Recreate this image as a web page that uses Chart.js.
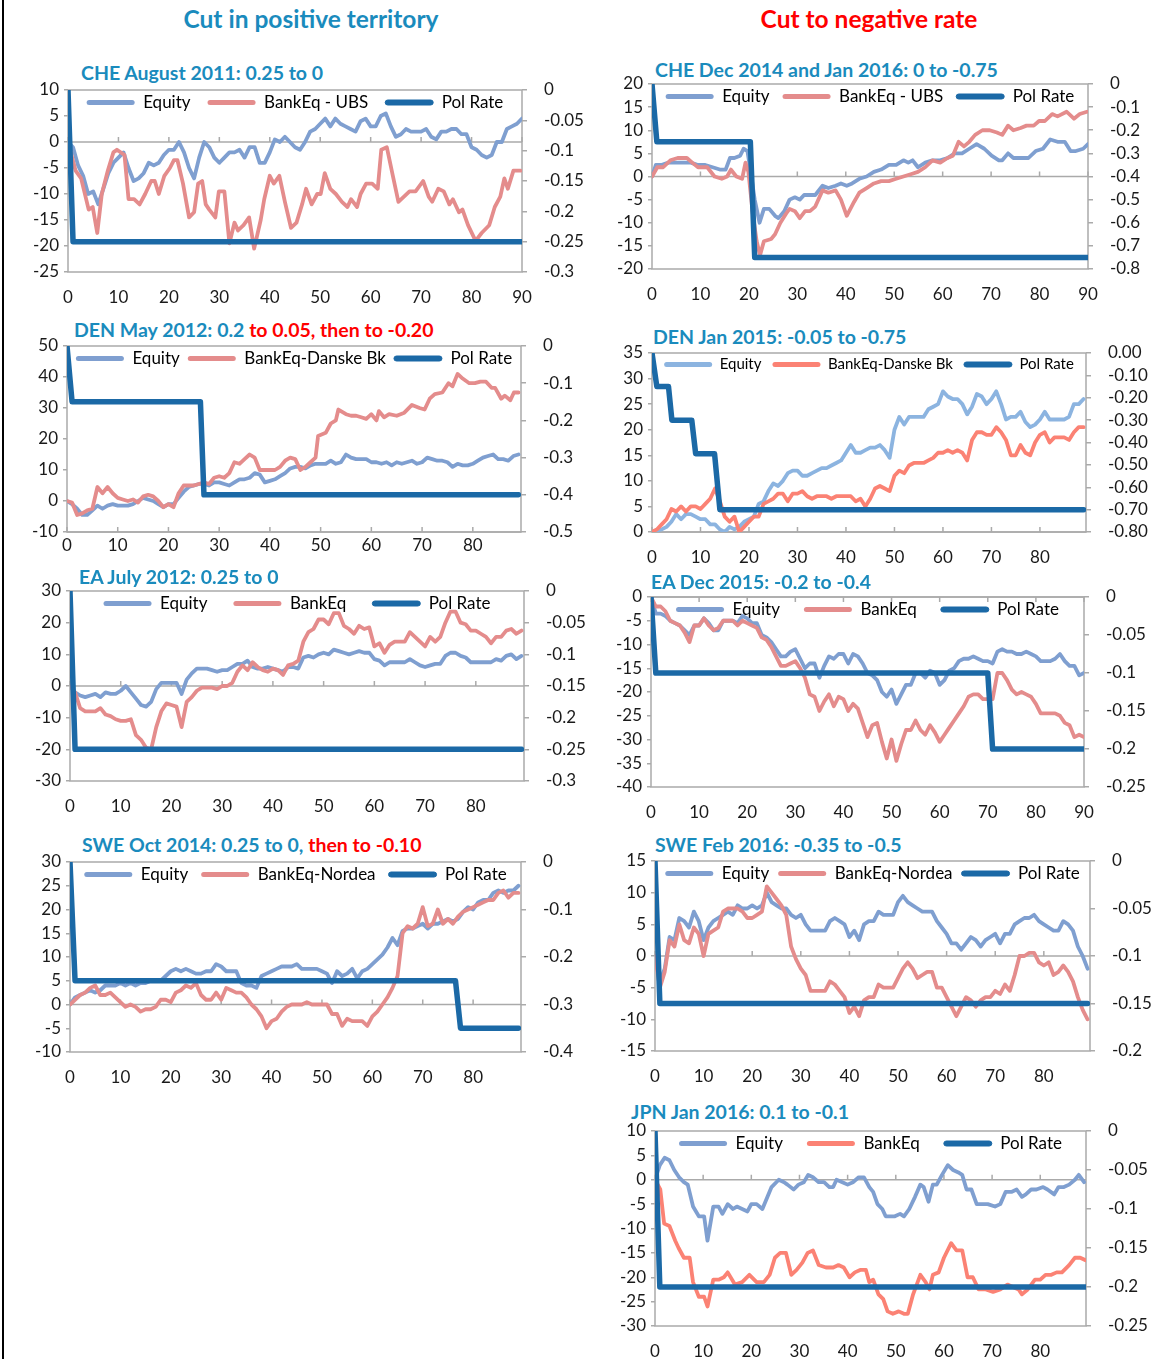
<!DOCTYPE html>
<html>
<head>
<meta charset="utf-8">
<script src="https://cdn.jsdelivr.net/npm/chart.js@4.4.1/dist/chart.umd.min.js"></script>
<style>
  html, body { margin: 0; padding: 0; background: #fff; }
  body { width: 1152px; height: 1359px; position: relative; overflow: hidden; font-family: Lato, sans-serif; }
  .edge { position: absolute; left: 2px; top: 0; width: 2px; height: 1359px; background: #000; }
  .head { position: absolute; top: 4px; line-height: 30px; font-weight: bold; font-size: 24.5px; transform: translateX(-50%); white-space: nowrap; }
  .title { position: absolute; line-height: 22px; font-weight: bold; font-size: 19.5px; color: #1a8bbd; white-space: nowrap; }
  .title .neg { color: #ff0000; }
  .panel { position: absolute; }
</style>
</head>
<body>
<div class="edge"></div>
<div class="head" style="left:311px;color:#1a8bbd">Cut in positive territory</div>
<div class="head" style="left:869px;color:#ff0000">Cut to negative rate</div>
<script>
// plain arrays are values for day 0,1,2...; [x, y] pairs give the day explicitly

// CHE August 2011
const cheAug11Eq = [
  0, -1, -4.5, -6.5, -10, -9.5, -12, -9, -6, -4,
  -3, -2, -5, -7.5, -7, -6, -4, -4.5, -4, -2.5,
  -1.5, -1.5, 0, -2, -5, -7, -3, 0, -1, -3,
  -4, -3, -2, -2, -1.5, -3, -1, -1, -4, -4,
  -2, 0.5, 0, 1, 0, -1, -1.5, 0, 2, 2.5,
  3.5, 4.5, 3, 4.5, 3.5, 3, 2.5, 2, 4, 4.5,
  3, 3, 5, 5.5, 3, 1, 1.5, 2.5, 2, 2,
  2, 2.5, 1, 0.5, 2, 2, 2.5, 2.5, 1.5, 1.5,
  -1, -1.5, -2.5, -3, -2.5, 0, 0, 2.5, 3, 3.5, 4.5
];
const cheAug11Bank = [
  [0, 0], [1.5, -5.5], [2.6, -7], [4.1, -13], [4.9, -12.5], [5.8, -17.5], [6.7, -10], [7.9, -5.5],
  [9, -2], [9.7, -1.5], [11.2, -2.5], [12, -11], [13.1, -11], [14.2, -12], [15.3, -10], [16.5, -7.5],
  [17.2, -7.5], [18, -10], [19.1, -6.5], [20.2, -5], [21, -3.5], [21.7, -3.5], [22.8, -8], [24, -14.5],
  [25, -13.5], [25.8, -8], [26.6, -7.5], [27.3, -12], [28, -13], [29.2, -14.5], [29.9, -9.5], [31, -9.5],
  [32, -19.5], [33, -15.5], [33.7, -17], [34.8, -16], [35.9, -14.5], [36.9, -20.5], [38.2, -15], [38.9, -11],
  [40, -6.5], [40.8, -8], [41.9, -6.5], [43, -11.5], [44.2, -16.5], [45.3, -15.5], [46.4, -12], [47.2, -9],
  [48.3, -12], [49.4, -10], [50.1, -10], [50.9, -6], [52, -9], [53.1, -10], [54.3, -11.5], [55.4, -12.5],
  [56.1, -11], [57.3, -12.5], [58, -10], [59.1, -8], [60.3, -8], [61.4, -9], [62.1, -1.5], [63.2, -1],
  [64.4, -6.5], [65.5, -11.5], [66.6, -10.5], [67.7, -9.5], [68.9, -9.5], [70.4, -7.5], [71.5, -10.5], [72.2, -11.5],
  [73.4, -9], [74.5, -9.5], [75.6, -12], [76.3, -11], [77.5, -13.5], [78.2, -13], [79.3, -16], [80.8, -19],
  [82, -17.5], [83.5, -16], [84.6, -12.5], [85.7, -10.5], [86.5, -7], [87.2, -9], [88.3, -5.5], [89.7, -5.5]
];
const cheAug11Pol = [[0, 0], [1, -0.25], [90, -0.25]];

// DEN May 2012
const denMay12Eq = [
  0, -1, -2.5, -4.5, -4.5, -3, -1.5, -2.5, -1.5, -1,
  -1.5, -1.5, -1.5, -1, 0, 1, 0.5, 0, -1, -2,
  -1, -1, 1, 3, 4.5, 5, 5.5, 5.5, 5, 6,
  6, 5.5, 5, 6, 7, 7, 7.5, 9, 8.5, 6,
  6.5, 7, 8, 9, 10.5, 11, 11, 10.5, 11.5, 12,
  12, 12, 13, 12, 12.5, 15, 14, 13.5, 13.5, 13.5,
  12.5, 12.5, 12, 12.5, 11.5, 12.5, 12, 12.5, 13, 12,
  12.5, 14, 13.5, 13, 13, 12.5, 11, 12, 11.5, 11.5,
  12, 13, 14, 14.5, 15, 13.5, 13.5, 13, 14.5, 15
];
const denMay12Bank = [
  [0, 0], [1, -0.5], [2, -4.5], [3, -4], [4, -3], [5, -2.5], [6, 4.5], [7, 2.5], [8, 4.5], [9, 2.5],
  [10, 1], [11, 0.5], [12, 0], [13, 0.5], [14, -0.5], [15, 1.5], [16, 2], [17, 1.5], [18, 0], [19, -2],
  [20, -1], [21, -2], [22, 2.5], [23, 5], [24, 5], [25, 5], [26, 5.5], [27, 6], [28, 5.5], [29, 7.5],
  [30, 8], [31, 7.5], [32, 9], [33, 12.5], [34, 12], [35, 13.5], [36, 15], [37, 14], [38, 10], [39, 10],
  [40, 10], [41, 10], [42, 11], [43, 13], [44, 14], [45, 13.5], [46, 10], [47, 11], [48, 12.5], [49, 14],
  [49.5, 21], [51, 22], [52, 25], [53, 26], [53.5, 29.5], [55, 28], [56, 27.5], [57, 27.5], [58, 27],
  [59, 26.5], [60, 28], [61, 26], [61.5, 29], [62.5, 27], [63.5, 28], [65, 27.5], [66.5, 28.5], [68, 31],
  [69.5, 30], [70.5, 29.5], [71.5, 33], [72.5, 34.5], [74, 35], [75.2, 38], [76, 37], [77, 41], [78, 39.5],
  [79.3, 38], [80.4, 38], [81.5, 38.5], [82.6, 38.5], [83.7, 36.5], [84.4, 36.5], [85.6, 33], [86.3, 34],
  [87.4, 32.5], [88.1, 35], [89, 35]
];
const denMay12Pol = [[0, 0], [1, -0.15], [26.3, -0.15], [27, -0.4], [89, -0.4]];

// EA July 2012
const eaJul12Eq = [
  0, -2, -3, -3.5, -3, -2.5, -3.5, -2, -2.5, -2.5,
  -1.5, 0, -2, -4, -6, -6.5, -5, -1, 1, 1,
  1, 1, -2.5, 2, 4, 5.5, 5.5, 5.5, 5, 4.5,
  5, 5, 6, 7, 7, 8, 6, 5.5, 5.5, 6,
  5.5, 5, 4.5, 6, 6, 5.5, 9, 9.5, 9, 10,
  10.5, 10, 11.5, 11, 10.5, 10, 10.5, 11, 10.5, 10.5,
  8.5, 8, 6.5, 7.5, 7.5, 7.5, 7.5, 8.5, 7.5, 6.5,
  6, 6.5, 7, 7, 9.5, 10.5, 10.5, 9.5, 9, 7.5,
  7.5, 7.5, 7.5, 7.5, 8.5, 8, 9.5, 10, 8.5, 9.5
];
const eaJul12Bank = [
  0, -2, -7, -8, -8, -8, -7, -9, -9.5, -10.5,
  -11, -11, -10.5, -15.5, -17, -19.5, -20, -13, -8, -5.5,
  -6, -6.5, -13, -5, -3.5, -1.5, -0.5, -0.5, -0.5, -1,
  0, 0, 1, 4.5, 6.5, 5, 7.5, 6, 5, 4.5,
  5.5, 5, 3.5, 6.5, 7, 8, 14, 17, 18, 21,
  21, 19.5, 23, 23, 19, 18, 16.5, 19, 18, 18.5,
  12.5, 13.5, 10.5, 13, 14, 14, 14, 17, 15.5, 14,
  12.5, 15.5, 14, 15.5, 20, 23.5, 23.5, 20, 19.5, 17.5,
  17.5, 16.5, 15.5, 13.5, 15.5, 15.5, 17.5, 18, 16.5, 17.5
];
const eaJul12Pol = [[0, 0], [1, -0.25], [89, -0.25]];

// SWE Oct 2014
const sweOct14Eq = [
  0, 1.5, 2, 2.5, 3, 2.5, 3, 4, 4, 4,
  4.5, 4, 4.5, 4, 4.5, 4.5, 5, 5, 5, 6,
  7, 7.5, 7, 7.5, 7, 6.5, 6.5, 7, 7, 8.5,
  8, 7, 7, 7, 4.5, 4, 4, 3.5, 6, 6.5,
  7, 7.5, 8, 8, 8, 8.5, 7.5, 7.5, 7.5, 7.5,
  7, 6.5, 4.5, 7, 6, 6.5, 7.5, 5.5, 7, 7.5,
  8.5, 9.5, 10.5, 12, 14, 12.5, 15.5, 16, 16, 16.5,
  17, 16, 17, 17, 17.5, 18, 17.5, 18, 19.5, 20.5,
  20, 21.5, 22, 22, 23.5, 24, 23.5, 24, 24, 25
];
const sweOct14Bank = [
  0, 1, 2, 2.5, 3.5, 4, 2, 2, 2.5, 1.5,
  0.5, -0.5, 0, -0.5, -1.5, -1, -1, -0.5, 1, 1,
  0.5, 2.5, 3, 4, 3.5, 4.5, 2, 1, 1, 2.5,
  1, 3.5, 3, 2.5, 2.5, 1.5, 0, -1, -2.5, -5,
  -3.5, -3, -1.5, -0.5, 0, 0, 0, 0.5, 0, 0,
  0, 0, -2, -2, -4.5, -3, -3.5, -3.5, -3.5, -4.5,
  -2.5, -1.5, 0, 1.5, 3.5, 6, 15, 16.5, 16, 17,
  20.5, 16.5, 17, 20, 17, 18, 17, 18.5, 19.5, 20,
  20.5, 21, 21.5, 22, 22, 23.5, 24, 22.5, 23.5, 23.5
];
const sweOct14Pol = [[0, 0], [1, -0.25], [76.5, -0.25], [77.5, -0.35], [89, -0.35]];

// CHE Dec 2014 and Jan 2016
const cheDec14Eq = [
  [0, 0], [0.8, 2.5], [1.9, 2.5], [3.4, 3], [4.9, 3], [6.4, 3], [8, 3], [9.5, 2.5], [11, 2.5], [12.5, 2],
  [14, 1.5], [15.2, 1.5], [16.1, 4], [17, 4], [18.2, 4.5], [18.9, 6], [19.7, 5.5], [20.5, 0], [21.2, -5],
  [22.2, -10], [23.1, -7], [24.2, -7], [25.4, -8.5], [26.1, -9], [27.3, -7.5], [28.4, -5], [29.5, -4.5],
  [30.5, -5], [31.4, -4], [32.6, -4], [33.7, -4], [35.2, -2], [36.4, -2.5], [37.9, -2], [39, -1.5],
  [40.2, -2], [41.3, -1.5], [42.8, -0.5], [44.3, 0], [45.8, 1], [47.3, 1.5], [48.9, 2.5], [50.4, 2.5],
  [51.9, 3.5], [52.9, 3], [53.8, 3.5], [54.9, 2], [56.4, 3], [57.9, 3.5], [59.5, 3.5], [61, 4], [62.5, 5],
  [64, 5], [65.5, 6], [67, 7], [68.6, 6], [70.1, 4.5], [71.6, 3.5], [72.3, 3.5], [73.5, 5], [74.6, 4],
  [76.1, 4], [77.7, 4], [79.2, 5.5], [80.7, 6], [82.2, 8], [83.7, 7.5], [85.2, 7.5], [86.4, 5.5],
  [87.5, 5.5], [89, 6], [90, 7]
];
const cheDec14Bank = [
  [0, 0], [1.1, 2], [2.3, 2], [3.8, 3.5], [5.3, 4], [7.2, 4], [8.3, 3], [9.5, 2], [11.4, 2], [12.9, 0],
  [14.4, -0.5], [15.5, 0], [16.3, 1.5], [17.4, 0], [18.6, -0.5], [19.3, 3], [19.9, 1], [20.8, -8],
  [21.6, -14], [22.3, -17], [23.1, -14], [24.6, -13.5], [25.4, -12.5], [26.5, -10], [27.7, -8], [28.4, -7],
  [29.5, -7.5], [30.5, -9], [31.6, -7.5], [32.6, -7.5], [33.7, -6.5], [35.2, -3], [36.4, -3.5], [37.9, -3],
  [39, -5], [40.2, -8.5], [41.7, -5.5], [42.8, -3.5], [44.3, -2.5], [45.8, -1.5], [47.3, -1], [48.9, -1],
  [50.4, -0.5], [51.9, 0], [53.4, 0.5], [54.9, 1], [56.4, 2], [57.9, 3.5], [59.5, 3], [61, 4], [62.1, 4.5],
  [63.3, 7.5], [64.4, 6.5], [65.5, 7.5], [66.7, 9], [68.2, 10], [69.7, 10], [71.2, 9.5], [72.3, 9],
  [73.5, 11], [74.6, 10], [76.1, 10.5], [77.3, 11], [78.8, 11], [79.9, 12], [81.1, 12], [82.6, 13.5],
  [83.7, 13], [85.6, 14], [87.1, 12.5], [88.3, 13.5], [89.8, 14]
];
const cheDec14Pol = [[0, 0], [1, -0.25], [20.3, -0.25], [21.2, -0.75], [90, -0.75]];

// DEN Jan 2015
const denJan15Eq = [
  0, 0.3, 0.5, 1, 2, 3.5, 2.5, 3.5, 3.5, 3,
  2.5, 2.5, 1.5, 1.5, 0.5, 0, 1, 0.5, 1, 2,
  2.5, 3, 5.5, 6, 8, 9.5, 9, 10, 11.5, 12,
  12, 11, 11, 11.5, 12, 12.5, 12.5, 13, 13.5, 14,
  15.5, 17, 15.5, 15.5, 16, 16.5, 16.5, 17, 16, 14.5,
  20, 22.5, 21, 22.5, 22.5, 22.5, 22.5, 24, 24.5, 25,
  27.5, 26.5, 26, 26, 25, 23, 24.5, 27, 26.5, 25,
  26, 27.5, 25, 22, 22.5, 22.5, 23.5, 21.5, 20.5, 21,
  22, 23.5, 22, 22, 22, 22, 22.5, 25, 25, 26
];
const denJan15Bank = [
  0, 0.5, 1.5, 2.5, 4.5, 4, 5, 4, 5, 5,
  4.5, 5.5, 6.5, 8.5, 6, 3, 2, 3, 0, 1,
  2, 3, 3, 5.5, 6, 6.5, 7.5, 7.5, 6, 7.5,
  7.5, 8, 7, 6.5, 7, 7, 7, 6.5, 7, 7,
  7, 7, 6, 6.5, 5, 6.5, 8.5, 9, 8.5, 8,
  11, 12, 11.5, 13, 13.5, 13.5, 13.5, 14, 14.5, 15.5,
  15.5, 16, 15.5, 16, 15.5, 14, 18, 19.5, 19.5, 19,
  19, 20.5, 19.5, 18, 15, 15, 17, 15.5, 15, 17.5,
  19, 19.5, 17.5, 18.5, 18.5, 18.5, 18, 19.5, 20.5, 20.5
];
const denJan15Pol = [
  [0, 0], [1, -0.15], [3.4, -0.15], [4.1, -0.3], [8.2, -0.3], [9, -0.45], [12.9, -0.45], [14, -0.7], [89, -0.7]
];

// EA Dec 2015
const eaDec15Eq = [
  0, -3.5, -3.5, -4, -5, -5.5, -6, -7, -8, -6,
  -6, -4.5, -5.5, -7, -7, -5, -5, -5, -5.5, -4,
  -4.5, -5.5, -5.5, -8, -8.5, -9.5, -11, -12.5, -12.5, -11.5,
  -11, -13, -15, -14, -14, -17, -14.5, -12.5, -13, -12,
  -12, -14, -12, -12.5, -14, -16, -16.5, -17.5, -20, -21,
  -19.5, -22.5, -20.5, -18.5, -18.5, -16, -16, -17, -15.5, -16,
  -18.5, -17.5, -15.5, -15, -13.5, -13, -13, -12.5, -13, -13.5,
  -13.5, -14, -11.5, -11, -11.5, -11.5, -12, -12, -11.5, -12,
  -12.5, -13.5, -13.5, -13.5, -13, -12, -13.5, -14.5, -14.5, -16.5, -16
];
const eaDec15Bank = [
  0, -2, -2, -3, -5, -5.5, -6, -7.5, -9.5, -6,
  -6, -4.5, -6, -7, -6.5, -5, -5, -5, -6, -5,
  -5.5, -6, -6.5, -8.5, -9, -10.5, -12.5, -14.5, -14.5, -14,
  -13.5, -15, -17, -20.5, -21, -24, -22, -20.5, -23, -21,
  -21.5, -24, -22.5, -23.5, -26.5, -29.5, -27, -26.5, -30.5, -34,
  -30, -34.5, -31, -28, -28, -26, -28, -29, -27, -28.5,
  -30.5, -29, -27.5, -26, -24.5, -23, -21, -20.5, -20.5, -21.5,
  -21.5, -21.5, -16, -16, -17.5, -19.5, -20.5, -20, -20.5, -21,
  -22.5, -24.5, -24.5, -24.5, -24.5, -25, -26.5, -27, -29.5, -29, -29.5
];
const eaDec15Pol = [[0, 0], [1, -0.1], [70, -0.1], [71, -0.2], [90, -0.2]];

// SWE Feb 2016
const sweFeb16Eq = [
  0, -4, -2, 3, 2.5, 6, 5.5, 4.5, 7, 5.5,
  2.5, 4.5, 5.5, 6, 6.5, 7, 6.5, 8, 7.5, 7.5,
  8, 7.5, 8, 10, 8.5, 8, 7.5, 7.5, 6.5, 6,
  6.5, 5, 4, 4, 4, 4, 5.5, 6, 5.5, 5,
  3, 4, 2.5, 5, 5.5, 5.5, 7, 6.5, 6.5, 6.5,
  8.5, 9.5, 8.5, 8, 7.5, 7, 7, 7, 5.5, 4.5,
  3.5, 2, 2, 1, 2, 3, 2.5, 1.5, 2.5, 3,
  3.5, 2, 3.5, 3.5, 5, 5.5, 6, 6, 6.5, 5.5,
  5, 4.5, 4, 4, 5.5, 5, 4, 1.5, 0, -2
];
const sweFeb16Bank = [
  0, -5, -2.5, 2.5, 1.5, 5, 2.5, 2, 4.5, 3.5,
  0, 3.5, 4, 4.5, 7, 7.5, 7.5, 7.5, 7, 6,
  6, 6.5, 7, 11, 10, 9, 8, 6.5, 1.5, -0.5,
  -2, -3, -5.5, -5.5, -5.5, -5.5, -4, -4.5, -5.5, -6.5,
  -9, -8, -9.5, -7, -6.5, -6.5, -4.5, -5, -5, -5,
  -3.5, -2, -1, -2, -3.5, -3, -2.5, -2.5, -5, -5,
  -6.5, -8, -9.5, -8, -6.5, -7, -8, -7, -6.5, -6.5,
  -5.5, -6, -4.5, -5.5, -3, 0, 0, 0.5, 0.5, -1,
  -1.5, -1, -3, -2.5, -1.5, -2.5, -4, -6.5, -8.5, -10
];
const sweFeb16Pol = [[0, 0], [1, -0.15], [89, -0.15]];

// JPN Jan 2016
const jpnJan16Eq = [
  [0, 0], [1, 3], [2, 4.5], [3, 4], [4, 2], [5, 0.5], [6, -0.5], [6.8, -1], [7.9, -5.5], [9.1, -7.5],
  [10.2, -7.5], [10.9, -12.5], [12.1, -5.5], [13.2, -5.5], [14, -7], [15.1, -5], [16.2, -6], [17, -5.5],
  [18.1, -6], [19.2, -6.5], [20, -5], [21.1, -5], [22.3, -6], [24.2, -1.5], [25.7, 0], [26.8, -0.5],
  [27.5, -1], [28.8, -2], [29.8, -1], [30.9, -0.5], [31.8, 1], [32.8, 0.5], [34, -0.5], [35.1, -0.5],
  [36.2, -1.5], [37, -1.5], [37.7, 0], [38.9, -0.5], [40, -1], [41.1, -0.5], [42.3, 0.5], [43.4, 0.5],
  [44.5, -1.5], [45.3, -2.5], [46.2, -5], [47.2, -6], [47.9, -7.5], [49.1, -7.5], [49.8, -7.5], [50.9, -7],
  [51.7, -7.5], [52.8, -6], [54, -3.5], [55.1, -1], [55.8, -1.5], [56.8, -4.5], [57.7, -1], [58.5, -1],
  [59.6, 1], [60.8, 3], [61.9, 2], [63, 1.5], [63.8, 1], [64.7, -2], [65.7, -2], [66.8, -5], [67.9, -5],
  [69.1, -5], [70.6, -5.5], [71.7, -5], [72.8, -2.5], [74, -2.5], [75.1, -2], [76.2, -3.5], [77, -3],
  [78.1, -2], [79.2, -2], [80.6, -1.5], [81.5, -2], [82.9, -3], [83.8, -1.5], [84.9, -1.5], [86, -1],
  [87.2, 0], [88, 1], [89.1, -0.5]
];
const jpnJan16Bank = [
  [0, 0], [1.1, -2], [1.9, -9], [3, -9.5], [4.2, -12.5], [4.9, -14], [6, -16], [7.2, -16], [7.9, -21],
  [9.1, -24], [10.2, -24], [10.9, -26], [12.1, -20.5], [13.2, -20.5], [14.3, -20], [15.1, -19], [16.6, -21.5],
  [18.1, -21], [19.6, -19.5], [21.1, -21], [22.6, -21], [23.8, -19.5], [24.9, -16], [26, -15], [27.2, -15],
  [28.3, -19.5], [29.4, -18.5], [30.6, -17], [31.7, -15], [32.8, -14.5], [34, -17.5], [35.5, -18], [37, -18],
  [38.1, -17.5], [39.2, -18], [40.4, -20], [41.5, -19], [42.6, -18.5], [43.8, -18.5], [44.5, -21], [45.3, -20.5],
  [46.4, -23.5], [47.4, -24.5], [48.3, -27], [49.4, -27.5], [50.6, -27], [51.7, -27.5], [52.5, -27.5],
  [53.6, -23.5], [55.1, -19.5], [56.2, -21], [57, -22.5], [57.7, -19.5], [58.9, -19], [60, -16], [61.5, -13],
  [62.6, -14.5], [63.8, -14.5], [64.9, -20], [66, -20], [67.2, -22.5], [68.7, -22.5], [70.2, -23], [71.7, -22.5],
  [73.2, -21.5], [74.3, -22], [75.5, -22.5], [76.2, -23.5], [77.4, -22.5], [78.9, -20.5], [80, -20.5],
  [81.1, -19.5], [82.3, -19.5], [83.4, -19], [84.5, -19], [86, -17.5], [87.2, -16], [88.3, -16], [89.4, -16.5]
];
const jpnJan16Pol = [[0, 0], [1, -0.2], [89.4, -0.2]];

const EQ = '#7f9fd0';
const BANK = '#e48c8c';
const BANK_SALMON = '#fb8274';
const POL = '#1b69a6';
const AXIS = '#aaaaaa';

Chart.defaults.font.family = 'Lato, sans-serif';
Chart.defaults.font.size = 17;
Chart.defaults.color = '#1a1a1a';

function points(arr) {
  return arr.map((v, i) => Array.isArray(v) ? { x: v[0], y: v[1] } : { x: i, y: v });
}

function fmt(v, dp) {
  if (Math.abs(v) < 1e-9) v = 0;
  return dp ? v.toFixed(dp) : String(+v.toFixed(2));
}

// plot border, category axis line at the crossing value and its tick marks;
// also pulls the legend row down inside the plot area like the original
const frame = {
  id: 'frame',
  afterLayout(chart, args, opts) {
    const lg = chart.legend;
    if (!lg) return;
    const h = lg.bottom - lg.top;
    lg.top = chart.chartArea.top - opts.legendPad + 4;
    lg.bottom = lg.top + h;
  },
  beforeDatasetsDraw(chart, args, opts) {
    const { ctx, chartArea: a, scales } = chart;
    ctx.save();
    ctx.strokeStyle = AXIS;
    ctx.lineWidth = 1.5;
    ctx.strokeRect(a.left, a.top, a.right - a.left, a.bottom - a.top);
    const y0 = scales.y.getPixelForValue(opts.cross);
    const dir = y0 <= a.top + 1 ? 1 : -1;
    ctx.beginPath();
    ctx.moveTo(a.left, y0);
    ctx.lineTo(a.right, y0);
    scales.x.ticks.forEach(t => {
      const px = scales.x.getPixelForValue(t.value);
      ctx.moveTo(px, y0);
      ctx.lineTo(px, y0 + dir * 5);
    });
    ctx.stroke();
    ctx.restore();
  }
};

const panels = [
  { title: ['CHE August 2011: 0.25 to 0'], tx: 81, ty: 73, box: [68, 522, 90, 272],
    y: [-25, 10, 5], y2: [-0.3, 0, 0.05], xMax: 90, cross: 0, xPad: 7, legendPad: 17,
    eq: cheAug11Eq, bank: cheAug11Bank, pol: cheAug11Pol, bankLabel: 'BankEq - UBS' },
  { title: ['DEN May 2012: 0.2 ', 'to 0.05, then to -0.20'], tx: 74, ty: 330, box: [67, 521, 346, 532],
    y: [-10, 50, 10], y2: [-0.5, 0, 0.1], xMax: 89.5, cross: -10, xPad: -5, legendPad: 8,
    eq: denMay12Eq, bank: denMay12Bank, pol: denMay12Pol, bankLabel: 'BankEq-Danske Bk' },
  { title: ['EA July 2012: 0.25  to 0'], tx: 79, ty: 577, box: [70, 524, 591, 781],
    y: [-30, 30, 10], y2: [-0.3, 0, 0.05], xMax: 89.5, cross: 0, xPad: 7, legendPad: 26,
    eq: eaJul12Eq, bank: eaJul12Bank, pol: eaJul12Pol, bankLabel: 'BankEq' },
  { title: ['SWE Oct 2014: 0.25 to 0, ', 'then to -0.10'], tx: 82, ty: 845, box: [70, 521, 862, 1052],
    y: [-10, 30, 5], y2: [-0.4, 0, 0.1], xMax: 89.5, cross: 0, xPad: 7, legendPad: 13,
    eq: sweOct14Eq, bank: sweOct14Bank, pol: sweOct14Pol, bankLabel: 'BankEq-Nordea' },
  { title: ['CHE Dec 2014  and Jan 2016: 0 to -0.75'], tx: 655, ty: 70, box: [652, 1088, 84, 269],
    y: [-20, 20, 5], y2: [-0.8, 0, 0.1], xMax: 90, cross: 0, xPad: 7, legendPad: 13,
    eq: cheDec14Eq, bank: cheDec14Bank, pol: cheDec14Pol, bankLabel: 'BankEq - UBS' },
  { title: ['DEN Jan 2015:  -0.05  to -0.75'], tx: 653, ty: 337, box: [652, 1086, 353, 532],
    y: [0, 35, 5], y2: [-0.8, 0, 0.1], dp: 2, xMax: 89.5, cross: 0, xPad: 7, legendPad: 11, legendFont: 15,
    eq: denJan15Eq, bank: denJan15Bank, pol: denJan15Pol, bankLabel: 'BankEq-Danske Bk',
    eqColor: '#8cb4e0', bankColor: BANK_SALMON },
  { title: ['EA Dec 2015:  -0.2  to -0.4'], tx: 651, ty: 582, box: [651, 1084, 597, 787],
    y: [-40, 0, 5], y2: [-0.25, 0, 0.05], xMax: 90, cross: 0, xPad: 7, legendPad: 24,
    eq: eaDec15Eq, bank: eaDec15Bank, pol: eaDec15Pol, bankLabel: 'BankEq' },
  { title: ['SWE Feb 2016:  -0.35  to  -0.5'], tx: 655, ty: 845, box: [655, 1090, 861, 1051],
    y: [-15, 15, 5], y2: [-0.2, 0, 0.05], xMax: 89.5, cross: 0, xPad: 7, legendPad: 9,
    eq: sweFeb16Eq, bank: sweFeb16Bank, pol: sweFeb16Pol, bankLabel: 'BankEq-Nordea' },
  { title: ['JPN Jan 2016: 0.1 to  -0.1'], tx: 631, ty: 1112, box: [655, 1086, 1131, 1326],
    y: [-30, 10, 5], y2: [-0.25, 0, 0.05], xMax: 89.5, cross: 0, xPad: 7, legendPad: 24,
    eq: jpnJan16Eq, bank: jpnJan16Bank, pol: jpnJan16Pol, bankLabel: 'BankEq', bankColor: BANK_SALMON }
];

function drawPanel(p) {
  const padL = 70, padR = 80, padT = 14, padB = 40;
  const [L, R, T, B] = p.box;

  const title = document.createElement('div');
  title.className = 'title';
  title.style.left = p.tx + 'px';
  title.style.top = (p.ty - 11) + 'px';
  title.textContent = p.title[0];
  if (p.title[1]) {
    const neg = document.createElement('span');
    neg.className = 'neg';
    neg.textContent = p.title[1];
    title.appendChild(neg);
  }
  document.body.appendChild(title);

  const div = document.createElement('div');
  div.className = 'panel';
  div.style.left = (L - padL) + 'px';
  div.style.top = (T - padT) + 'px';
  div.style.width = (R - L + padL + padR) + 'px';
  div.style.height = (B - T + padT + padB + 60) + 'px';
  const cv = document.createElement('canvas');
  div.appendChild(cv);
  document.body.appendChild(div);

  const chart = new Chart(cv, {
    type: 'line',
    data: {
      datasets: [
        { label: 'Equity', data: points(p.eq), borderColor: p.eqColor || EQ, borderWidth: 3.8, yAxisID: 'y', order: 2 },
        { label: p.bankLabel, data: points(p.bank), borderColor: p.bankColor || BANK, borderWidth: 3.8, yAxisID: 'y', order: 1 },
        { label: 'Pol Rate', data: points(p.pol), borderColor: POL, borderWidth: 5.5, yAxisID: 'y2', order: 0 }
      ]
    },
    options: {
      responsive: true,
      maintainAspectRatio: false,
      animation: false,
      layout: { padding: { top: padT, left: 0, right: 0, bottom: 0 } },
      elements: {
        point: { radius: 0 },
        line: { tension: 0, borderJoinStyle: 'round', borderCapStyle: 'round' }
      },
      scales: {
        x: {
          type: 'linear', min: 0, max: p.xMax,
          grid: { display: false }, border: { display: false },
          ticks: { stepSize: 10, includeBounds: false, padding: p.xPad, maxRotation: 0, autoSkip: false },
          afterFit: s => { s.height = padB; }
        },
        y: {
          position: 'left', min: p.y[0], max: p.y[1],
          ticks: { stepSize: p.y[2], padding: 5, autoSkip: false, callback: v => fmt(v, 0) },
          grid: { drawOnChartArea: false, tickLength: 4, color: AXIS, lineWidth: 1.5 },
          border: { display: false },
          afterFit: s => { s.width = padL; }
        },
        y2: {
          position: 'right', min: p.y2[0], max: p.y2[1],
          ticks: { stepSize: p.y2[2], padding: 17, autoSkip: false, callback: v => fmt(v, p.dp || 0) },
          grid: { drawOnChartArea: false, tickLength: 5, color: AXIS, lineWidth: 1.5 },
          border: { display: false },
          afterFit: s => { s.width = padR; }
        }
      },
      plugins: {
        legend: {
          position: 'top',
          fullSize: false,
          align: 'center',
          labels: {
            boxWidth: 48,
            boxHeight: 5,
            padding: p.legendPad,
            color: '#1a1a1a',
            font: { size: p.legendFont || 17 },
            generateLabels: chart => chart.data.datasets.map((d, i) => ({
              text: d.label,
              fillStyle: d.borderColor,
              strokeStyle: d.borderColor,
              lineWidth: i === 2 ? 1 : 0,
              borderRadius: 2.5,
              datasetIndex: i,
              hidden: false
            }))
          }
        },
        tooltip: { enabled: false },
        frame: { cross: p.cross, legendPad: p.legendPad }
      }
    },
    plugins: [frame]
  });

  // the legend row takes room above the plot; shift the box so the plot lands on T..B
  const a = chart.chartArea;
  const below = div.clientHeight - a.bottom;
  div.style.top = (T - a.top) + 'px';
  div.style.height = (a.top + (B - T) + below) + 'px';
  chart.resize();
}

panels.forEach(drawPanel);
</script>
</body>
</html>
